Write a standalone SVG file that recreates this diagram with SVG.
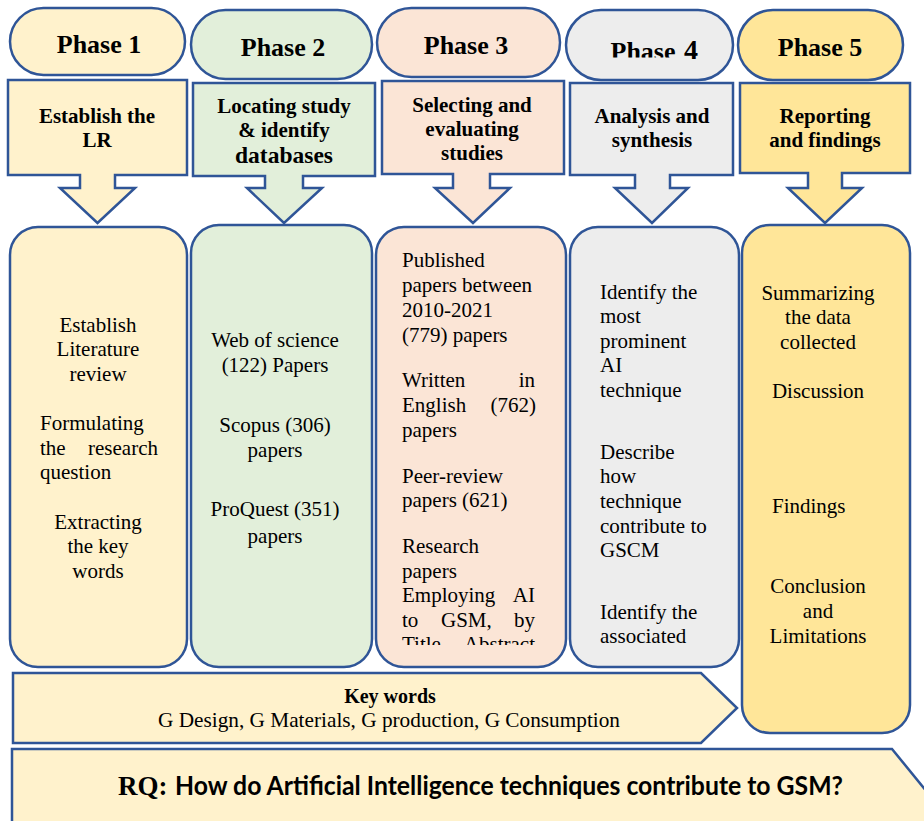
<svg xmlns="http://www.w3.org/2000/svg" width="924" height="821" viewBox="0 0 924 821">
<style>
.s{stroke:#2F5597;stroke-width:2.5;stroke-linejoin:miter}
.f1{fill:#FFF2CC}.f2{fill:#E2EFDA}.f3{fill:#FBE5D6}.f4{fill:#EDEDED}.f5{fill:#FFE699}
.ph{font-family:"Liberation Serif","Times New Roman",serif;font-weight:bold;font-size:26px;fill:#000;text-anchor:middle}
.sh{font-family:"Liberation Serif","Times New Roman",serif;font-weight:bold;font-size:21px;fill:#000;text-anchor:middle}
.t{font-family:"Liberation Serif","Times New Roman",serif;font-size:21px;fill:#000}
.c{text-anchor:middle}
.e{text-anchor:end}
</style>
<defs>
<clipPath id="clip4"><rect x="560" y="0" width="180" height="57.5"/></clipPath>
<clipPath id="clip3"><rect x="376" y="227" width="190" height="418"/></clipPath>
</defs>
<rect width="924" height="821" fill="#FFFFFF"/>

<g id="phase1">
<rect class="s f1" x="10" y="8" width="175" height="67" rx="33.5"/>
<text class="ph" x="99" y="53">Phase 1</text>
<path class="s f1" d="M8,80 H187 V175 H115 V188 H135 L97.5,223 L60,188 H80 V175 H8 Z"/>
<text class="sh" x="97" y="123">Establish the</text>
<text class="sh" x="97" y="147">LR</text>
<rect class="s f1" x="10" y="227" width="177" height="440" rx="28"/>
<text class="t c" x="98" y="332">Establish</text>
<text class="t c" x="98" y="356">Literature</text>
<text class="t c" x="98" y="381">review</text>
<text class="t" x="40" y="430">Formulating</text>
<text class="t" x="40" y="455">the</text>
<text class="t e" x="158" y="455">research</text>
<text class="t" x="40" y="479">question</text>
<text class="t c" x="98" y="529">Extracting</text>
<text class="t c" x="98" y="553">the key</text>
<text class="t c" x="98" y="578">words</text>
</g>

<g id="phase2">
<rect class="s f2" x="191" y="10" width="181" height="69" rx="34.5"/>
<text class="ph" x="283" y="56">Phase 2</text>
<path class="s f2" d="M193,83 H375 V176 H303 V188 H322 L284,223 L247,188 H265 V176 H193 Z"/>
<text class="sh" x="284" y="113">Locating study</text>
<text class="sh" x="284" y="137">&amp; identify</text>
<text class="sh" x="284" y="163" style="font-size:23.5px">databases</text>
<rect class="s f2" x="191" y="225" width="181" height="442" rx="28"/>
<text class="t c" x="275" y="347">Web of science</text>
<text class="t c" x="275" y="372">(122) Papers</text>
<text class="t c" x="275" y="432">Scopus (306)</text>
<text class="t c" x="275" y="457">papers</text>
<text class="t c" x="275" y="516">ProQuest (351)</text>
<text class="t c" x="275" y="543">papers</text>
</g>

<g id="phase3">
<rect class="s f3" x="377" y="8" width="183" height="69" rx="34.5"/>
<text class="ph" x="466" y="54">Phase 3</text>
<path class="s f3" d="M382,81 H564 V174 H490 V188 H510 L473,223 L435,188 H453 V174 H382 Z"/>
<text class="sh" x="472" y="112">Selecting and</text>
<text class="sh" x="472" y="136">evaluating</text>
<text class="sh" x="472" y="160">studies</text>
<rect class="s f3" x="376" y="227" width="190" height="440" rx="28"/>
<text class="t" x="402" y="267">Published</text>
<text class="t" x="402" y="292">papers between</text>
<text class="t" x="402" y="317">2010-2021</text>
<text class="t" x="402" y="342">(779) papers</text>
<text class="t" x="402" y="387">Written</text>
<text class="t e" x="535" y="387">in</text>
<text class="t" x="402" y="412">English</text>
<text class="t e" x="536" y="412">(762)</text>
<text class="t" x="402" y="437">papers</text>
<text class="t" x="402" y="483">Peer-review</text>
<text class="t" x="402" y="507">papers (621)</text>
<text class="t" x="402" y="553">Research</text>
<text class="t" x="402" y="578">papers</text>
<text class="t" x="402" y="602">Employing</text>
<text class="t e" x="535" y="602">AI</text>
<text class="t" x="402" y="627">to</text>
<text class="t" x="441" y="627">GSM,</text>
<text class="t e" x="535" y="627">by</text>
<g clip-path="url(#clip3)">
<text class="t" x="402" y="651">Title</text>
<text class="t e" x="535" y="651">Abstract</text>
</g>
</g>

<g id="phase4">
<rect class="s f4" x="566" y="10" width="167" height="70" rx="35"/>
<text class="ph" x="643" y="60" clip-path="url(#clip4)">Phase</text>
<text class="ph" x="691" y="59" style="font-size:28px">4</text>
<path class="s f4" d="M570,83 H733 V175 H670 V188 H688 L652,223 L615,188 H635 V175 H570 Z"/>
<text class="sh" x="652" y="123">Analysis and</text>
<text class="sh" x="652" y="147">synthesis</text>
<rect class="s f4" x="570" y="227" width="169" height="440" rx="28"/>
<text class="t" x="600" y="299">Identify the</text>
<text class="t" x="600" y="323">most</text>
<text class="t" x="600" y="348">prominent</text>
<text class="t" x="600" y="372">AI</text>
<text class="t" x="600" y="397">technique</text>
<text class="t" x="600" y="459">Describe</text>
<text class="t" x="600" y="483">how</text>
<text class="t" x="600" y="508">technique</text>
<text class="t" x="600" y="533">contribute to</text>
<text class="t" x="600" y="557">GSCM</text>
<text class="t" x="600" y="619">Identify the</text>
<text class="t" x="600" y="643">associated</text>
</g>

<g id="phase5">
<rect class="s f5" x="738" y="10" width="165" height="70" rx="35"/>
<text class="ph" x="820" y="56">Phase 5</text>
<path class="s f5" d="M740,83 H910 V173 H842 V188 H862 L825,223 L788,188 H808 V173 H740 Z"/>
<text class="sh" x="825" y="123">Reporting</text>
<text class="sh" x="825" y="147">and findings</text>
<rect class="s f5" x="742" y="225" width="168" height="508" rx="28"/>
<text class="t c" x="818" y="300">Summarizing</text>
<text class="t c" x="818" y="324">the data</text>
<text class="t c" x="818" y="349">collected</text>
<text class="t c" x="818" y="398">Discussion</text>
<text class="t" x="772" y="513">Findings</text>
<text class="t c" x="818" y="593">Conclusion</text>
<text class="t c" x="818" y="618">and</text>
<text class="t c" x="818" y="643">Limitations</text>
</g>

<g id="keywords">
<path class="s f1" d="M13,673 H701 L737,708 L701,743 H13 Z"/>
<text class="sh" x="390" y="703" style="font-size:20px">Key words</text>
<text class="t" x="158" y="727" textLength="462" lengthAdjust="spacingAndGlyphs">G Design, G Materials, G production, G Consumption</text>
</g>

<g id="rq">
<path class="s f1" d="M12,749 H892 L950,820 L892,891 H12 Z"/>
<text x="118" y="795" style="font-family:'Liberation Serif','Times New Roman',serif;font-weight:bold;font-size:27px;fill:#000">RQ:</text>
<text x="175" y="795" textLength="668" lengthAdjust="spacingAndGlyphs" style="font-family:Lato,'Liberation Sans',sans-serif;font-weight:bold;font-size:27px;fill:#000">How do Artificial Intelligence techniques contribute to GSM?</text>
</g>

<g id="connectors"></g>
</svg>
